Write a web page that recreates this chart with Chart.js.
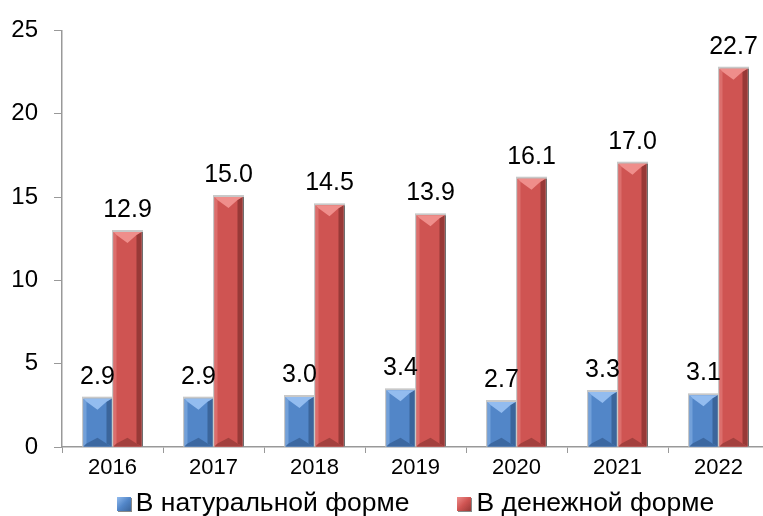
<!DOCTYPE html>
<html>
<head>
<meta charset="utf-8">
<script src="https://cdn.jsdelivr.net/npm/chart.js@4"></script>
<style>
  html, body { margin: 0; padding: 0; background: #fff; overflow: hidden; }
  #wrap { position: relative; width: 763px; height: 516px; overflow: hidden; }
  #chart { position: absolute; left: 0; top: 0; }
  #legend {
    position: absolute; left: 62px; width: 707px; top: 489px;
    text-align: center; font: 26.5px "Liberation Sans", Arial, sans-serif;
    line-height: 26px; color: #000; white-space: nowrap;
  }
  #legend span.item { display: inline-block; margin: 0 24px; }
  #legend span.box {
    display: inline-block; width: 14px; height: 14px; margin-right: 5px;
    vertical-align: baseline;
  }
</style>
</head>
<body>
<div id="wrap">
  <canvas id="chart" width="776" height="516"></canvas>
  <div id="legend"></div>
</div>
<script>
// data
const years = ['2016', '2017', '2018', '2019', '2020', '2021', '2022'];
const naturalForm = [2.9, 2.9, 3.0, 3.4, 2.7, 3.3, 3.1];
const moneyForm = [12.9, 15.0, 14.5, 13.9, 16.1, 17.0, 22.7];
const seriesNames = ['В натуральной форме', 'В денежной форме'];
const yTicks = [0, 5, 10, 15, 20, 25];

// bevel palettes for the two series
const palettes = [
  { face: '#5286c8', left: '#72a0d9', right: '#3b659b', top: '#93bcef', bottom: '#3c68a1' },
  { face: '#cf5452', left: '#dc6e6c', right: '#983937', top: '#ef8e8b', bottom: '#a3403e' },
];

Chart.defaults.font.family = '"Liberation Sans", Arial, sans-serif';
Chart.defaults.color = '#000';

// 3d bevel on each bar, then the values on top of everything
const bevelPlugin = {
  id: 'bevel',
  afterDatasetsDraw(chart) {
    const ctx = chart.ctx;
    const poly = (pts, c) => {
      ctx.beginPath();
      ctx.moveTo(pts[0][0], pts[0][1]);
      for (let k = 1; k < pts.length; k++) ctx.lineTo(pts[k][0], pts[k][1]);
      ctx.closePath();
      ctx.fillStyle = c;
      ctx.fill();
    };
    const labels = [];
    ctx.save();
    chart.data.datasets.forEach((ds, di) => {
      const pal = palettes[di];
      chart.getDatasetMeta(di).data.forEach((bar, i) => {
        const { x, y, base, width } = bar.getProps(['x', 'y', 'base', 'width'], true);
        const l = x - width / 2, r = x + width / 2, t = y, b = base;
        const sl = 3, sr = 5, sy = 3;
        const vy = Math.min(11, (b - t) / 2);
        // frame and shadow
        ctx.fillStyle = '#c8c8c8';
        ctx.fillRect(l - 1.5, t - 2, width + 3, b - t + 2);
        ctx.fillStyle = 'rgba(40,40,40,0.55)';
        ctx.fillRect(r, t, 1.5, b - t);
        poly([[l, t], [r, t], [r, b], [l, b]], pal.face);
        poly([[l, t], [l + sl, t + sy], [l + sl, b - sy], [l, b]], pal.left);
        poly([[r, t], [r, b], [r - sr, b - sy], [r - sr, t + sy]], pal.right);
        poly([[l, t], [r, t], [r - sr, t + sy], [x, t + vy], [l + sl, t + sy]], pal.top);
        poly([[l, b], [l + sl, b - sy], [x, b - vy * 0.8], [r - sr, b - sy], [r, b]], pal.bottom);
        labels.push([ds.data[i].toFixed(1), x, t - 15]);
      });
    });
    ctx.fillStyle = '#000';
    ctx.font = '25px "Liberation Sans", Arial, sans-serif';
    ctx.textAlign = 'center';
    ctx.textBaseline = 'alphabetic';
    labels.forEach(([txt, lx, ly]) => ctx.fillText(txt, lx, ly));
    ctx.restore();
  }
};

const chart = new Chart(document.getElementById('chart'), {
  type: 'bar',
  data: {
    labels: years,
    datasets: [
      { label: seriesNames[0], data: naturalForm, backgroundColor: palettes[0].face },
      { label: seriesNames[1], data: moneyForm, backgroundColor: palettes[1].face },
    ],
  },
  options: {
    responsive: false,
    animation: false,
    events: [],
    categoryPercentage: 0.594,
    barPercentage: 0.933,
    layout: { padding: { top: 27, right: 7, left: 0, bottom: 0 } },
    plugins: { legend: { display: false }, tooltip: { enabled: false } },
    scales: {
      x: {
        grid: { drawOnChartArea: false, tickLength: 6, color: '#999', offset: true },
        border: { color: '#999', width: 1.5 },
        ticks: { font: { size: 22 }, padding: 2, maxRotation: 0 },
        afterFit: (s) => { s.height = 516 - 447; },
      },
      y: {
        min: 0,
        max: 25,
        afterBuildTicks: (s) => { s.ticks = yTicks.map(v => ({ value: v })); },
        grid: { drawOnChartArea: false, tickLength: 8, color: '#999' },
        border: { color: '#999', width: 1.5 },
        ticks: { font: { size: 24 }, padding: 16 },
        afterFit: (s) => { s.width = 62; },
      },
    },
  },
  plugins: [bevelPlugin],
});

// legend below the axis, centered on the plot area
const legend = document.getElementById('legend');
chart.data.datasets.forEach((ds, di) => {
  const pal = palettes[di];
  const item = document.createElement('span');
  item.className = 'item';
  const box = document.createElement('span');
  box.className = 'box';
  box.style.background = `linear-gradient(135deg, ${pal.top} 0%, ${pal.face} 50%, ${pal.right} 100%)`;
  box.style.boxShadow = '1px 1px 0 #888';
  item.appendChild(box);
  item.appendChild(document.createTextNode(ds.label));
  legend.appendChild(item);
});
</script>
</body>
</html>
